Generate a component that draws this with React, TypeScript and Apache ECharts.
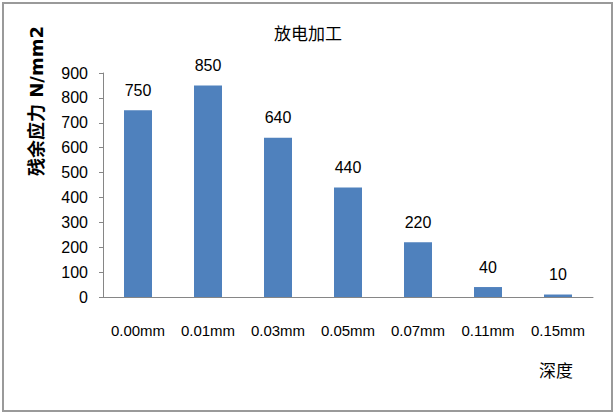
import React, { useEffect, useRef } from "react";
import * as echarts from "echarts";

const categories = ["0.00mm", "0.01mm", "0.03mm", "0.05mm", "0.07mm", "0.11mm", "0.15mm"];
const values = [750, 850, 640, 440, 220, 40, 10];
const titleText = "放电加工";
const yName = "残余应力 N/mm2";
const xName = "深度";

const FONT = "'Liberation Sans', 'Noto Sans CJK SC', sans-serif";
const CJK = "'Noto Sans CJK SC', sans-serif";
const BOLD = "'DejaVu Sans', 'Noto Sans CJK SC', sans-serif";

export default function App() {
  const ref = useRef<HTMLDivElement>(null);
  useEffect(() => {
    document.body.style.margin = "0";
    const chart = echarts.init(ref.current!, undefined, { renderer: "svg" });
    chart.setOption({
      animation: false,
      backgroundColor: "#ffffff",
      textStyle: { fontFamily: FONT },
      grid: { left: 103, right: 23, top: 73, bottom: 117, containLabel: false },
      xAxis: {
        type: "category",
        data: categories,
        axisLine: { lineStyle: { color: "#868686", width: 1 } },
        axisTick: { show: false },
        axisLabel: { color: "#000", fontSize: 15, margin: 26, fontFamily: FONT, interval: 0 },
      },
      yAxis: {
        type: "value",
        min: 0,
        max: 900,
        interval: 100,
        splitLine: { show: false },
        axisLine: { show: true, lineStyle: { color: "#868686", width: 1 } },
        axisTick: { show: true, length: 4, lineStyle: { color: "#868686" } },
        axisLabel: { color: "#000", fontSize: 16, margin: 15, fontFamily: FONT },
      },
      series: [
        {
          type: "bar",
          data: values,
          barWidth: 28,
          itemStyle: { color: "#4F81BD" },
          label: {
            show: true,
            position: "top",
            distance: 12,
            color: "#000",
            fontSize: 16,
            fontFamily: FONT,
          },
        },
      ],
      graphic: [
        {
          type: "rect",
          shape: { x: 3, y: 3, width: 609, height: 408 },
          style: { fill: "none", stroke: "#9a9a9a", lineWidth: 2 },
          silent: true,
        },
        {
          type: "text",
          x: 308,
          y: 32,
          style: {
            text: titleText,
            fontSize: 17,
            fill: "#000",
            fontFamily: CJK,
            textAlign: "center",
            textVerticalAlign: "middle",
          },
        },
        {
          type: "text",
          x: 36,
          y: 101,
          rotation: Math.PI / 2,
          style: {
            text: yName,
            fontSize: 18,
            fontWeight: "bold",
            fill: "#000",
            fontFamily: BOLD,
            textAlign: "center",
            textVerticalAlign: "middle",
          },
        },
        {
          type: "text",
          x: 556,
          y: 369,
          style: {
            text: xName,
            fontSize: 17,
            fill: "#000",
            fontFamily: CJK,
            textAlign: "center",
            textVerticalAlign: "middle",
          },
        },
      ],
    });
    return () => chart.dispose();
  }, []);
  return <div ref={ref} style={{ position: "absolute", left: 0, top: 0, width: 616, height: 414 }} />;
}
